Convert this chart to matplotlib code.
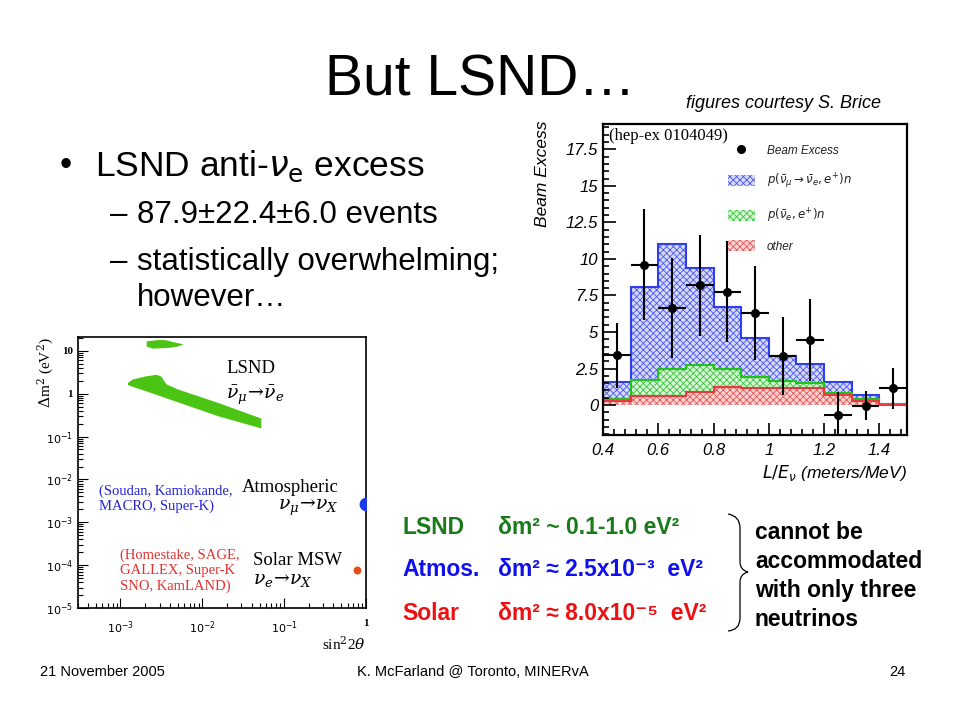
import numpy as np
import matplotlib.pyplot as plt
from matplotlib.lines import Line2D
from matplotlib.patches import Patch, PathPatch
from matplotlib.path import Path
from matplotlib.ticker import FixedLocator, MultipleLocator, LogLocator, NullFormatter

plt.rcParams['hatch.linewidth'] = 0.6

SANS = ['Liberation Sans', 'DejaVu Sans']
SERIF = ['Liberation Serif', 'DejaVu Serif']

# --- LSND beam excess histogram (hep-ex 0104049) ---
bin_edges = [0.4, 0.5, 0.6, 0.7, 0.8, 0.9, 1.0, 1.1, 1.2, 1.3, 1.4, 1.5]
osc_total = [1.6, 8.05, 11.0, 9.4, 6.7, 4.6, 3.35, 2.8, 1.6, 0.7, 0.07]
nue_total = [0.4, 1.7, 2.5, 2.75, 2.5, 1.95, 1.65, 1.5, 0.8, 0.4, 0.07]
other_total = [0.25, 0.6, 0.6, 0.9, 1.25, 1.2, 1.15, 1.2, 0.7, 0.25, 0.02]
excess_x = [0.45, 0.55, 0.65, 0.75, 0.85, 0.95, 1.05, 1.15, 1.25, 1.35, 1.45]
excess_y = [3.4, 9.6, 6.65, 8.2, 7.75, 6.3, 3.35, 4.45, -0.65, -0.05, 1.15]
excess_err = [2.2, 3.8, 3.4, 3.45, 3.45, 3.2, 2.65, 2.8, 1.55, 1.0, 1.4]
hist_xticks = [0.4, 0.6, 0.8, 1.0, 1.2, 1.4]
hist_xticklabels = ['0.4', '0.6', '0.8', '1', '1.2', '1.4']
hist_yticks = [0, 2.5, 5, 7.5, 10, 12.5, 15, 17.5]
hist_yticklabels = ['0', '2.5', '5', '7.5', '10', '12.5', '15', '17.5']

# --- oscillation parameter space (log10 values) ---
lsnd_band_logx = [-2.91, -2.85, -2.70, -2.56, -2.50, -2.44, -2.30, -1.80, -1.28,
                  -1.28, -1.80, -2.30, -2.60, -2.85, -2.91]
lsnd_band_logy = [0.25, 0.33, 0.40, 0.44, 0.40, 0.22, 0.10, -0.22, -0.58,
                  -0.81, -0.53, -0.20, 0.00, 0.16, 0.20]
lsnd_island_logx = [-2.68, -2.55, -2.45, -2.35, -2.23, -2.30, -2.40, -2.60, -2.68]
lsnd_island_logy = [1.22, 1.25, 1.25, 1.20, 1.15, 1.10, 1.07, 1.05, 1.10]
atmos_point = (1.0, 2.6e-3)
solar_point = (0.78, 7.5e-5)
osc_xticks = [1e-3, 1e-2, 1e-1, 1]
osc_xticklabels = [r'$10^{-3}$', r'$10^{-2}$', r'$10^{-1}$', '1']
osc_yticks = [1e-5, 1e-4, 1e-3, 1e-2, 1e-1, 1, 10]
osc_yticklabels = [r'$10^{-5}$', r'$10^{-4}$', r'$10^{-3}$', r'$10^{-2}$', r'$10^{-1}$', '1', '10']

# --- summary table ---
row_names = ['LSND', 'Atmos.', 'Solar']
row_values = ['δm² ~ 0.1-1.0 eV²', 'δm² ≈ 2.5x10⁻³  eV²', 'δm² ≈ 8.0x10⁻⁵  eV²']
row_colors = ['#1a7a1a', '#1010ee', '#ee1111']


def px(x, y):
    # pixel position on the 960x720 slide -> figure fraction
    return x / 960.0, 1.0 - y / 720.0


fig = plt.figure(figsize=(9.6, 7.2), dpi=100)
fig.patch.set_facecolor('white')

# slide text
fig.text(*px(480, 80), 'But LSND…', ha='center', va='center', fontsize=41, family=SANS)
fig.text(*px(784, 103), 'figures courtesy S. Brice', ha='center', va='center',
         fontsize=13, style='italic', family=SANS)
fig.text(*px(60, 166), '•', ha='left', va='center', fontsize=25, family=SANS)
fig.text(*px(95, 166), r'LSND anti-$\nu_\mathrm{e}$ excess', ha='left', va='center',
         fontsize=25.5, family=SANS, math_fontfamily='dejavusans')
fig.text(*px(110, 215), '–', ha='left', va='center', fontsize=22.5, family=SANS)
fig.text(*px(137, 215), '87.9±22.4±6.0 events', ha='left', va='center', fontsize=22.5, family=SANS)
fig.text(*px(110, 262), '–', ha='left', va='center', fontsize=22.5, family=SANS)
fig.text(*px(137, 262), 'statistically overwhelming;', ha='left', va='center', fontsize=22.5, family=SANS)
fig.text(*px(137, 298), 'however…', ha='left', va='center', fontsize=22.5, family=SANS)

# footer
fig.text(*px(40, 672), '21 November 2005', ha='left', va='center', fontsize=10.5, family=SANS)
fig.text(*px(473, 672), 'K. McFarland @ Toronto, MINERvA', ha='center', va='center', fontsize=10.5, family=SANS)
fig.text(*px(905, 672), '24', ha='right', va='center', fontsize=10.5, family=SANS)

# ---------- histogram ----------
ax = fig.add_axes([603 / 960, 1 - 435 / 720, 304 / 960, 311 / 720])
edges = np.array(bin_edges)
zero = np.zeros(len(other_total))

BLUE_FACE, BLUE_HATCH = '#d6d9fa', '#4a58ee'
GREEN_FACE, GREEN_HATCH = '#d6f5d6', '#3cc43c'
RED_FACE, RED_HATCH = '#fad2d2', '#e45454'


def step_fill(lower, upper, face, hatch_col):
    lo = np.append(lower, lower[-1])
    hi = np.append(upper, upper[-1])
    ax.fill_between(edges, lo, hi, step='post', facecolor=face, edgecolor=hatch_col,
                    hatch='xxxxx', linewidth=0)


step_fill(np.array(nue_total), np.array(osc_total), BLUE_FACE, BLUE_HATCH)
step_fill(np.array(other_total), np.array(nue_total), GREEN_FACE, GREEN_HATCH)
step_fill(zero, np.array(other_total), RED_FACE, RED_HATCH)
ax.stairs(osc_total, edges, color='#2f3ff0', linewidth=1.5)
ax.stairs(nue_total, edges, color='#22c022', linewidth=1.5)
ax.stairs(other_total, edges, color='#e83a3a', linewidth=1.5)
ax.errorbar(excess_x, excess_y, yerr=excess_err, xerr=0.05, fmt='o', color='black',
            markersize=5.5, elinewidth=1.5, capsize=0)

ax.set_xlim(0.4, 1.5)
ax.set_ylim(-2.05, 19.23)
ax.xaxis.set_major_locator(FixedLocator(hist_xticks))
ax.set_xticklabels(hist_xticklabels)
ax.yaxis.set_major_locator(FixedLocator(hist_yticks))
ax.set_yticklabels(hist_yticklabels)
ax.xaxis.set_minor_locator(MultipleLocator(0.04))
ax.yaxis.set_minor_locator(MultipleLocator(0.5))
ax.tick_params(which='both', direction='in', labelsize=12, width=1.2)
ax.tick_params(which='major', length=9)
ax.tick_params(which='minor', length=4.5)
ax.tick_params(axis='x', pad=6)
for lab in ax.get_xticklabels() + ax.get_yticklabels():
    lab.set_style('italic')
    lab.set_family(SANS)
for sp in ax.spines.values():
    sp.set_linewidth(1.6)

ax.set_ylabel('Beam Excess', fontsize=12.5, style='italic', family=SANS, loc='top')
ax.yaxis.set_label_coords(-0.175, 1.012)
ax.set_xlabel(r'$L/E_\nu$ (meters/MeV)', fontsize=12.5, style='italic', family=SANS,
              loc='right', math_fontfamily='dejavusans')
ax.xaxis.set_label_coords(1.0, -0.09)
ax.text(0.02, 0.96, '(hep-ex 0104049)', transform=ax.transAxes, ha='left', va='center',
        fontsize=12, family=SERIF)

handles = [
    Line2D([], [], marker='o', color='black', linestyle='none', markersize=5.5),
    Patch(facecolor=BLUE_FACE, edgecolor=BLUE_HATCH, hatch='xxxxx', linewidth=0),
    Patch(facecolor=GREEN_FACE, edgecolor=GREEN_HATCH, hatch='xxxxx', linewidth=0),
    Patch(facecolor=RED_FACE, edgecolor=RED_HATCH, hatch='xxxxx', linewidth=0),
]
labels = ['Beam Excess', r'$p(\bar{\nu}_\mu\rightarrow\bar{\nu}_e,e^{+})n$',
          r'$p(\bar{\nu}_e,e^{+})n$', 'other']
leg = ax.legend(handles, labels, loc='upper left', bbox_to_anchor=(0.41, 0.935),
                frameon=False, borderpad=0, borderaxespad=0, handlelength=2.3,
                handleheight=1.0, handletextpad=1.0, labelspacing=1.3,
                prop={'size': 8.5, 'style': 'italic', 'family': SANS})
for t in leg.get_texts():
    t.set_color('#222222')

# ---------- oscillation parameter space ----------
ax2 = fig.add_axes([77.7 / 960, 1 - 608 / 720, 288.3 / 960, 271 / 720])
ax2.set_xscale('log')
ax2.set_yscale('log')
ax2.fill(10 ** np.array(lsnd_band_logx), 10 ** np.array(lsnd_band_logy), color='#4cc414', lw=0)
ax2.fill(10 ** np.array(lsnd_island_logx), 10 ** np.array(lsnd_island_logy), color='#4cc414', lw=0)
ax2.scatter([atmos_point[0]], [atmos_point[1]], s=80, color='#1a3ae8', zorder=3)
ax2.scatter([solar_point[0]], [solar_point[1]], s=22, color='#e0501a', zorder=3)
ax2.set_xlim(3e-4, 1.0)
ax2.set_ylim(1e-5, 21)
ax2.xaxis.set_major_locator(FixedLocator(osc_xticks))
ax2.set_xticklabels(osc_xticklabels)
ax2.yaxis.set_major_locator(FixedLocator(osc_yticks))
ax2.set_yticklabels(osc_yticklabels)
ax2.xaxis.set_minor_locator(LogLocator(subs=np.arange(2, 10)))
ax2.yaxis.set_minor_locator(LogLocator(subs=np.arange(2, 10)))
ax2.xaxis.set_minor_formatter(NullFormatter())
ax2.yaxis.set_minor_formatter(NullFormatter())
ax2.tick_params(which='both', direction='in', labelsize=8, width=0.8)
ax2.tick_params(which='major', length=7)
ax2.tick_params(which='minor', length=3.5)
ax2.tick_params(axis='x', pad=8)
for lab in ax2.get_xticklabels() + ax2.get_yticklabels():
    lab.set_family(SERIF)
    lab.set_fontweight('bold')
for sp in ax2.spines.values():
    sp.set_linewidth(1.2)
ax2.set_ylabel(r'$\Delta$m$^2$ (eV$^2$)', fontsize=11, family=SERIF, math_fontfamily='dejavuserif')
ax2.yaxis.set_label_coords(-0.075, 0.87)
ax2.set_xlabel(r'sin$^2$2$\theta$', fontsize=11, family=SERIF, loc='right',
               math_fontfamily='dejavuserif')
ax2.xaxis.set_label_coords(1.0, -0.098)

ax2.text(0.0195, 3.9, 'LSND', ha='left', va='center', fontsize=13.5, family=SERIF)
ax2.text(0.0195, 0.93, r'$\bar{\nu}_\mu\!\rightarrow\!\bar{\nu}_e$', ha='left', va='center',
         fontsize=13.5, math_fontfamily='dejavuserif')
ax2.text(0.462, 6.6e-3, 'Atmospheric', ha='right', va='center', fontsize=13.5, family=SERIF)
ax2.text(0.462, 2.24e-3, r'$\nu_\mu\!\rightarrow\!\nu_X$', ha='right', va='center',
         fontsize=13.5, math_fontfamily='dejavuserif')
ax2.text(0.0412, 1.3e-4, 'Solar MSW', ha='left', va='center', fontsize=13.5, family=SERIF)
ax2.text(0.0412, 4.6e-5, r'$\nu_e\!\rightarrow\!\nu_X$', ha='left', va='center',
         fontsize=13.5, math_fontfamily='dejavuserif')
ax2.text(5.5e-4, 3.5e-3, '(Soudan, Kamiokande,\nMACRO, Super-K)', ha='left', va='center',
         fontsize=10.5, family=SERIF, color='#2424d8', linespacing=1.2)
ax2.text(1.0e-3, 7.4e-5, '(Homestake, SAGE,\nGALLEX, Super-K\nSNO, KamLAND)', ha='left',
         va='center', fontsize=10.5, family=SERIF, color='#e43030', linespacing=1.2)

# ---------- summary block ----------
for i, (nm, val, col) in enumerate(zip(row_names, row_values, row_colors)):
    y = 527 + 43 * i
    fig.text(*px(402, y), nm, ha='left', va='center', fontsize=16.5, fontweight='bold',
             color=col, family=SANS)
    fig.text(*px(498, y), val, ha='left', va='center', fontsize=16.5, fontweight='bold',
             color=col, family=SANS)

brace_px = [(728, 514), (740, 516), (740, 528), (740, 562), (740, 570), (748, 572),
            (740, 574), (740, 582), (740, 618), (740, 630), (728, 631)]
codes = [Path.MOVETO, Path.CURVE3, Path.CURVE3, Path.LINETO, Path.CURVE3, Path.CURVE3,
         Path.CURVE3, Path.CURVE3, Path.LINETO, Path.CURVE3, Path.CURVE3]
brace = Path([px(x, y) for x, y in brace_px], codes)
fig.add_artist(PathPatch(brace, transform=fig.transFigure, facecolor='none',
                         edgecolor='black', linewidth=0.9))
fig.text(*px(755, 576), 'cannot be\naccommodated\nwith only three\nneutrinos', ha='left',
         va='center', fontsize=16.5, fontweight='bold', family=SANS, linespacing=1.32)

fig.savefig('out.png', dpi=100, facecolor='white')
